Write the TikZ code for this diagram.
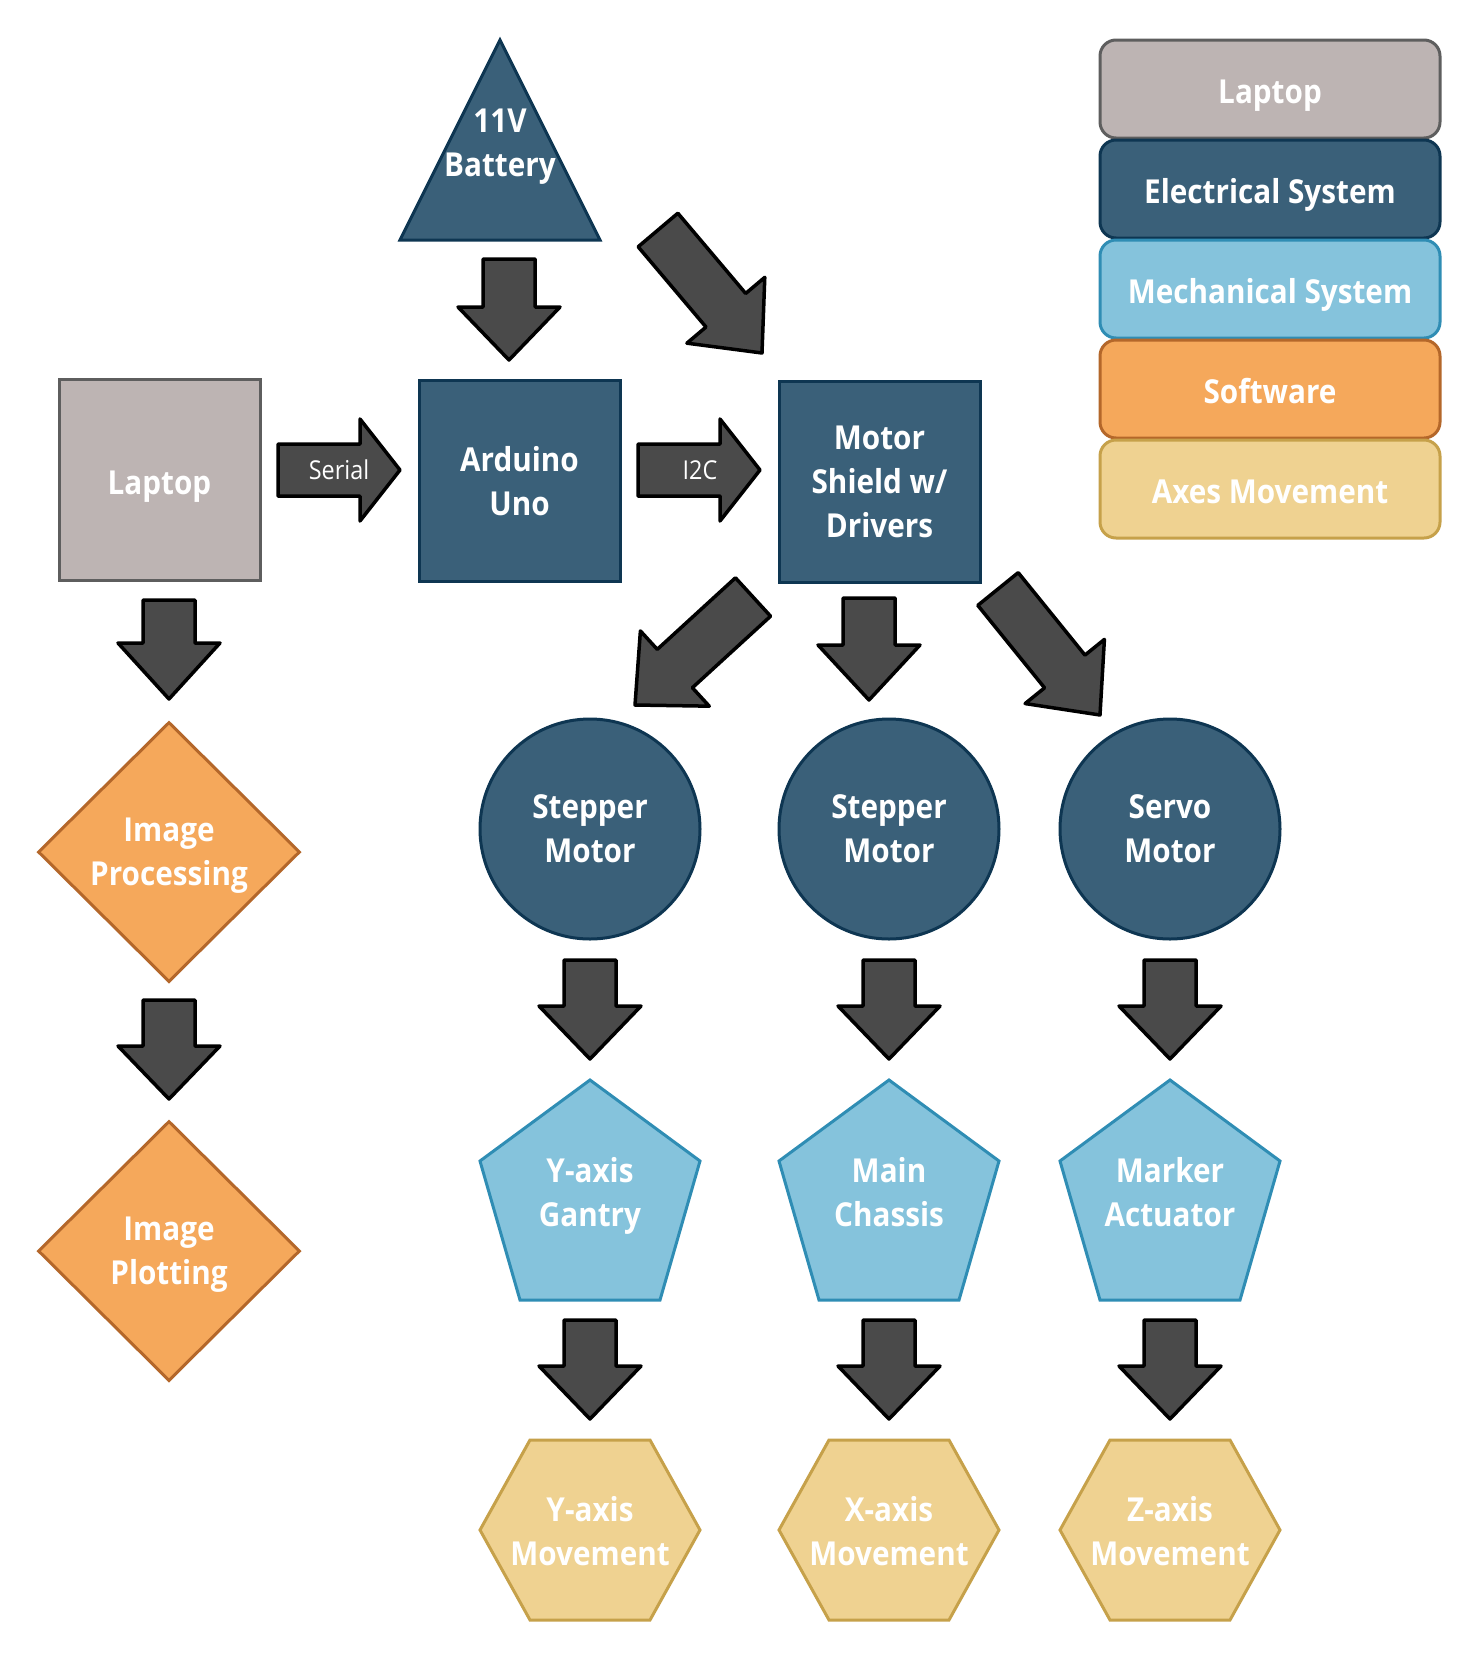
\documentclass[tikz,border=0pt]{standalone}
\usepackage{fontspec}
\setmainfont{Open Sans}[FakeStretch=0.9]
\usetikzlibrary{shapes.geometric,calc}
\definecolor{lapF}{HTML}{BDB4B3}
\definecolor{lapD}{HTML}{5E5E5E}
\definecolor{eleF}{HTML}{3A6079}
\definecolor{eleD}{HTML}{0E3652}
\definecolor{mecF}{HTML}{85C3DC}
\definecolor{mecD}{HTML}{2F8DB4}
\definecolor{sofF}{HTML}{F5A85B}
\definecolor{sofD}{HTML}{B4672A}
\definecolor{axF}{HTML}{EFD291}
\definecolor{axD}{HTML}{C6A14A}
\definecolor{arrF}{HTML}{4A4A4A}
% block arrow: #1 head length, #2 tail coordinate, #3 tip coordinate
\newcommand\blk[3][53]{%
  \coordinate (hb) at ($(#3)!#1pt!(#2)$);
  \draw[blkarrow] ($(#2)!26pt!90:(#3)$) -- ($(hb)!26pt!-90:(#2)$) -- ($(hb)!51pt!-90:(#2)$)
     -- (#3) -- ($(hb)!51pt!90:(#2)$) -- ($(hb)!26pt!90:(#2)$) -- ($(#2)!26pt!-90:(#3)$) -- cycle;
}
% pentagon outline around a named centre
\newcommand\pent[1]{%
  \draw[mecS] ($(#1)+(0,-116)$) -- ($(#1)+(110,-35)$) -- ($(#1)+(70,104)$)
     -- ($(#1)+(-70,104)$) -- ($(#1)+(-110,-35)$) -- cycle;
}
% hexagon outline around a named centre
\newcommand\hexg[1]{%
  \draw[axS] ($(#1)+(-110,0)$) -- ($(#1)+(-60,-90)$) -- ($(#1)+(60,-90)$)
     -- ($(#1)+(110,0)$) -- ($(#1)+(60,90)$) -- ($(#1)+(-60,90)$) -- cycle;
}
\begin{document}
\begin{tikzpicture}[x=1pt,y=-1pt,
 lbl/.style={text=white,font=\fontsize{33}{44}\selectfont\bfseries,align=center,inner sep=0pt,line width=3pt,text depth=0pt},
 lapS/.style={lbl,fill=lapF,draw=lapD},
 eleS/.style={lbl,fill=eleF,draw=eleD},
 mecS/.style={lbl,fill=mecF,draw=mecD},
 sofS/.style={lbl,fill=sofF,draw=sofD},
 axS/.style={lbl,fill=axF,draw=axD},
 one/.style={text height=29pt,text depth=0pt},
 sq/.style={rectangle,minimum width=201pt,minimum height=201pt},
 motor/.style={eleS,circle,minimum size=220pt},
 dia/.style={sofS,diamond,minimum width=262pt,minimum height=260pt},
 leg/.style={rectangle,rounded corners=16pt,minimum width=340pt,minimum height=98pt,one},
 blkarrow/.style={fill=arrF,draw=black,line width=3.5pt,line join=round},
 arrlbl/.style={text=white,font=\fontsize{26}{30}\selectfont,inner sep=0pt}
]
\fill[white] (0,0) rectangle (1481,1660);
\useasboundingbox (0,0) rectangle (1481,1660);

% battery
\draw[eleS] (500,40) -- (600,240) -- (400,240) -- cycle;
\node[lbl] (bat) at (500,143) {11V\\Battery};

% boxes
\node[lapS,sq,one] (laptop) at (159.5,479.5) {Laptop};
\node[eleS,sq] (uno) at (519.5,481) {Arduino\\Uno};
\node[eleS,sq] (shield) at (879.5,482) {Motor\\Shield w/\\Drivers};

% software column
\node[dia] (proc) at (169,852) {Image\\Processing};
\node[dia] (plot) at (169,1251) {Image\\Plotting};

% motors
\node[motor] (m1) at (590,829) {Stepper\\Motor};
\node[motor] (m2) at (889,829) {Stepper\\Motor};
\node[motor] (m3) at (1170,829) {Servo\\Motor};

% mechanical
\coordinate (p1c) at (590,1196);
\coordinate (p2c) at (889,1196);
\coordinate (p3c) at (1170,1196);
\pent{p1c} \pent{p2c} \pent{p3c}
\node[lbl] (p1) at (590,1192) {Y-axis\\Gantry};
\node[lbl] (p2) at (889,1192) {Main\\Chassis};
\node[lbl] (p3) at (1170,1192) {Marker\\Actuator};

% axes
\coordinate (h1c) at (590,1530);
\coordinate (h2c) at (889,1530);
\coordinate (h3c) at (1170,1530);
\hexg{h1c} \hexg{h2c} \hexg{h3c}
\node[lbl] (h1) at (590,1531) {Y-axis\\Movement};
\node[lbl] (h2) at (889,1531) {X-axis\\Movement};
\node[lbl] (h3) at (1170,1531) {Z-axis\\Movement};

% legend
\node[lapS,leg] (lg1) at (1270,89) {Laptop};
\node[eleS,leg] (lg2) at (1270,189) {Electrical System};
\node[mecS,leg] (lg3) at (1270,289) {Mechanical System};
\node[sofS,leg] (lg4) at (1270,389) {Software};
\node[axS,leg] (lg5) at (1270,489) {Axes Movement};

% arrow end points
\coordinate (batA) at (509,259);   \coordinate (batB) at (509,360);
\coordinate (batC) at (658,230);   \coordinate (batD) at (762,353);
\coordinate (serA) at (278,470);   \coordinate (serB) at (400,470);
\coordinate (i2cA) at (638,470);   \coordinate (i2cB) at (760,470);
\coordinate (lapA) at (169,600);   \coordinate (lapB) at (169,699);
\coordinate (proA) at (169,1000);  \coordinate (proB) at (169,1099);
\coordinate (shlA) at (753,597);   \coordinate (shlB) at (635,705);
\coordinate (shmA) at (869,598);   \coordinate (shmB) at (869,700);
\coordinate (shrA) at (998,589);   \coordinate (shrB) at (1100,715);
\coordinate (m1A) at (590,960);    \coordinate (m1B) at (590,1059);
\coordinate (m2A) at (889,960);    \coordinate (m2B) at (889,1059);
\coordinate (m3A) at (1170,960);   \coordinate (m3B) at (1170,1059);
\coordinate (p1A) at (590,1320);   \coordinate (p1B) at (590,1419);
\coordinate (p2A) at (889,1320);   \coordinate (p2B) at (889,1419);
\coordinate (p3A) at (1170,1320);  \coordinate (p3B) at (1170,1419);

\blk[53]{batA}{batB}
\blk[56]{batC}{batD}
\blk[40]{serA}{serB}
\blk[40]{i2cA}{i2cB}
\blk[56]{lapA}{lapB}
\blk[53]{proA}{proB}
\blk[54]{shlA}{shlB}
\blk[55]{shmA}{shmB}
\blk[56]{shrA}{shrB}
\blk{m1A}{m1B}
\blk{m2A}{m2B}
\blk{m3A}{m3B}
\blk{p1A}{p1B}
\blk{p2A}{p2B}
\blk{p3A}{p3B}

\node[arrlbl] (serlbl) at (339,470) {Serial};
\node[arrlbl] (i2clbl) at (700,470) {I2C};
\end{tikzpicture}
\end{document}
